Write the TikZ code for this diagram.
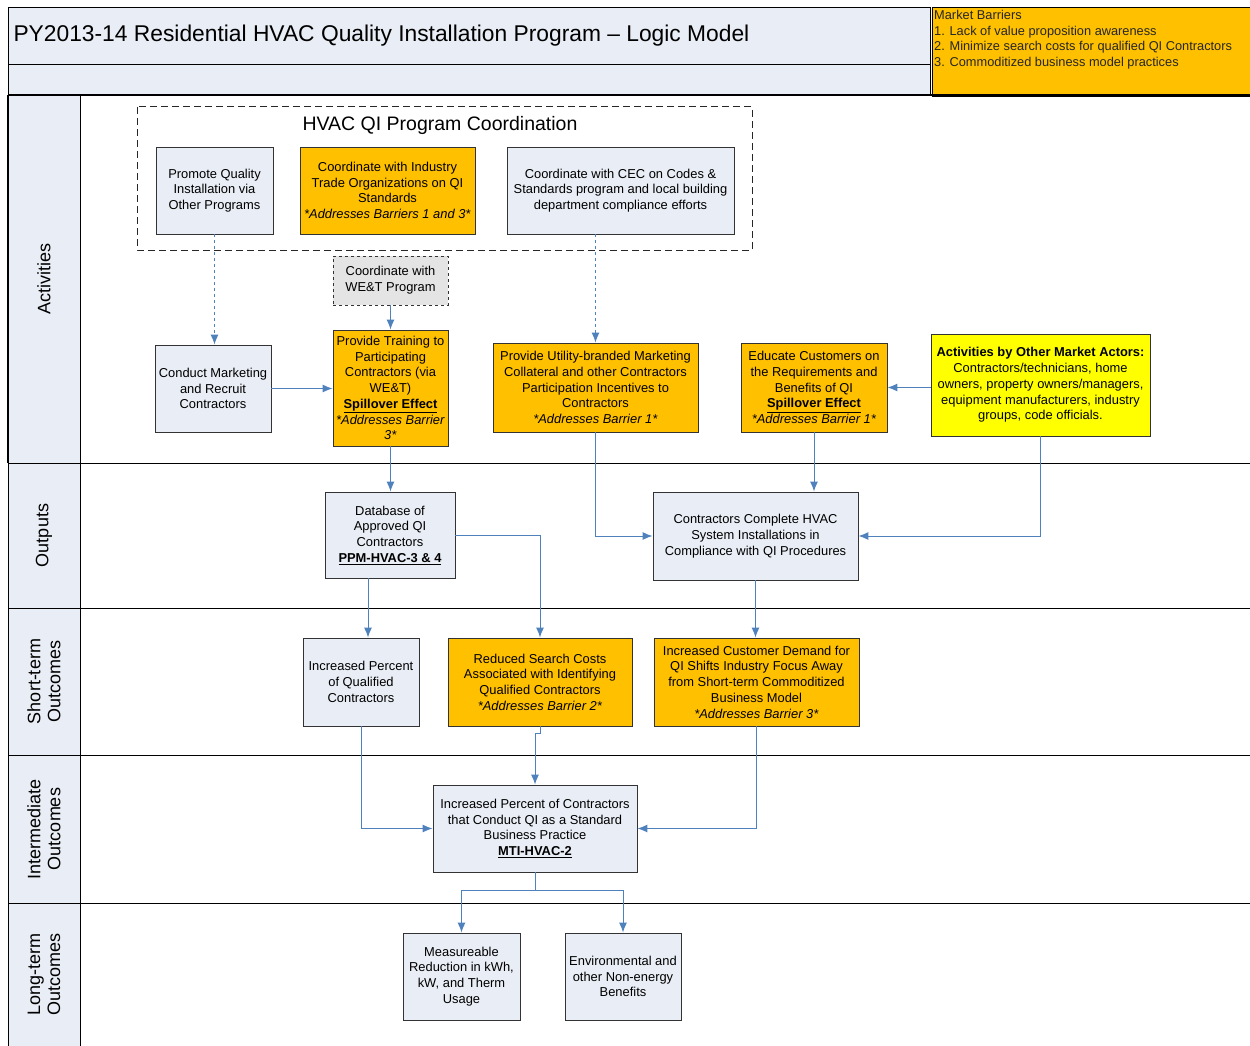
\documentclass[tikz,border=0pt]{standalone}
\usepackage{fontspec}
\setmainfont{Liberation Sans}
\usetikzlibrary{arrows.meta}

\definecolor{qiblue}{HTML}{E9EDF5}
\definecolor{qiorange}{HTML}{FFC000}
\definecolor{qiyellow}{HTML}{FFFF00}
\definecolor{qigray}{HTML}{E4E4E4}
\definecolor{qiarrow}{HTML}{4F81BD}

\newcommand{\qifont}{\fontsize{12.9}{15.7}\selectfont}
\newcommand{\qinote}[1]{\textit{*#1*}}
\newcommand{\qikey}[1]{\underline{\textbf{#1}}}

\tikzset{
  qibox/.style={draw=black!80, fill=qiblue, line width=0.9pt, align=center,
                inner sep=1.5pt, font=\qifont},
  orangebox/.style={qibox, fill=qiorange},
  flow/.style={draw=qiarrow, line width=1pt, -{Latex[length=10pt,width=8pt]}},
  lane/.style={draw=black, line width=1pt},
  lanelabel/.style={rotate=90, align=center, font=\fontsize{18}{20}\selectfont}
}

\begin{document}
\begin{tikzpicture}[x=1pt, y=-1pt]
  \useasboundingbox (0,0) rectangle (1250,1046);

  % Title bands
  \draw[lane, fill=qiblue] (8,8) rectangle (930,65);
  \draw[lane, fill=qiblue] (8,65) rectangle (930,95);
  \node[anchor=west, font=\fontsize{22.8}{26}\selectfont] (title) at (10,36)
    {PY2013-14 Residential HVAC Quality Installation Program -- Logic Model};

  % Market barriers
  \draw[lane, fill=qiorange] (932,8) rectangle (1250,97);
  \node[anchor=north west, align=left, inner sep=0pt, text=black!85,
        font=\fontsize{12.8}{15.6}\selectfont] (barriers) at (934,10)
    {Market Barriers\\
     1. Lack of value proposition awareness\\
     2. Minimize search costs for qualified QI Contractors\\
     3. Commoditized business model practices};

  % Swimlanes
  \draw[lane, fill=qiblue] (8,95) rectangle (80,463);
  \draw[lane, fill=qiblue] (8,463) rectangle (80,608);
  \draw[lane, fill=qiblue] (8,608) rectangle (80,755);
  \draw[lane, fill=qiblue] (8,755) rectangle (80,903);
  \draw[lane, fill=qiblue] (8,903) rectangle (80,1046);
  \draw[lane, line width=1.4pt] (8,95) -- (1250,95);
  \foreach \y in {463,608,755,903}
    \draw[lane] (80,\y) -- (1250,\y);
  \draw[lane, line width=1.4pt] (8,95) -- (8,463);
  \node[lanelabel] (lact) at (44,279) {Activities};
  \node[lanelabel] (lout) at (44,535.5) {Outputs};
  \node[lanelabel] (lshort) at (44,681.5) {Short-term\\Outcomes};
  \node[lanelabel] (linter) at (44,829) {Intermediate\\Outcomes};
  \node[lanelabel] (llong) at (44,974.5) {Long-term\\Outcomes};

  % Program coordination group
  \draw[black!85, line width=1pt, dash pattern=on 7pt off 4pt] (137,107) rectangle (752,250);
  \node[font=\fontsize{19.5}{22}\selectfont] (coord) at (440,125) {HVAC QI Program Coordination};
  \node[qibox, minimum width=117pt, minimum height=87pt] (promote) at (214.5,190.5)
    {Promote Quality\\Installation via\\Other Programs};
  \node[orangebox, minimum width=175pt, minimum height=87pt] (industry) at (387.5,190.5)
    {Coordinate with Industry\\Trade Organizations on QI\\Standards\\\qinote{Addresses Barriers 1 and 3}};
  \node[qibox, minimum width=227pt, minimum height=87pt] (cec) at (620.5,190.5)
    {Coordinate with CEC on Codes \&\\Standards program and local building\\department compliance efforts};
  \node[qibox, fill=qigray, dashed, minimum width=115pt, minimum height=49pt] (wet) at (390.5,280.5)
    {Coordinate with\\WE\&T Program};

  % Activities
  \node[qibox, minimum width=116pt, minimum height=87pt] (marketing) at (213,388.5)
    {Conduct Marketing\\and Recruit\\Contractors};
  \node[orangebox, minimum width=115pt, minimum height=116pt] (training) at (390.5,388)
    {Provide Training to\\Participating\\Contractors (via\\WE\&T)\\\qikey{Spillover Effect}\\
     \textit{*Addresses Barrier}\\\textit{3*}};
  \node[orangebox, minimum width=205pt, minimum height=89pt] (utility) at (595.5,387.5)
    {Provide Utility-branded Marketing\\Collateral and other Contractors\\Participation Incentives to\\
     Contractors\\\qinote{Addresses Barrier 1}};
  \node[orangebox, minimum width=146pt, minimum height=89pt] (educate) at (814,387.5)
    {Educate Customers on\\the Requirements and\\Benefits of QI\\\qikey{Spillover Effect}\\
     \qinote{Addresses Barrier 1}};
  \node[qibox, fill=qiyellow, minimum width=219pt, minimum height=102pt] (actors) at (1040.5,385)
    {\textbf{Activities by Other Market Actors:}\\Contractors/technicians, home\\
     owners, property owners/managers,\\equipment manufacturers, industry\\groups, code officials.};

  % Outputs
  \node[qibox, minimum width=130pt, minimum height=86pt] (database) at (390,535)
    {Database of\\Approved QI\\Contractors\\\qikey{PPM-HVAC-3 \& 4}};
  \node[qibox, minimum width=205pt, minimum height=88pt] (complete) at (755.5,536)
    {Contractors Complete HVAC\\System Installations in\\Compliance with QI Procedures};

  % Short-term outcomes
  \node[qibox, minimum width=116pt, minimum height=88pt] (qualified) at (361,682)
    {Increased Percent\\of Qualified\\Contractors};
  \node[orangebox, minimum width=184pt, minimum height=88pt] (search) at (540,682)
    {Reduced Search Costs\\Associated with Identifying\\Qualified Contractors\\
     \qinote{Addresses Barrier 2}};
  \node[orangebox, minimum width=205pt, minimum height=88pt] (demand) at (756.5,682)
    {Increased Customer Demand for\\QI Shifts Industry Focus Away\\from Short-term Commoditized\\
     Business Model\\\qinote{Addresses Barrier 3}};

  % Intermediate outcomes
  \node[qibox, minimum width=204pt, minimum height=87pt] (practice) at (535,828.5)
    {Increased Percent of Contractors\\that Conduct QI as a Standard\\Business Practice\\
     \qikey{MTI-HVAC-2}};

  % Long-term outcomes
  \node[qibox, minimum width=117pt, minimum height=87pt] (reduction) at (461.5,976.5)
    {Measureable\\Reduction in kWh,\\kW, and Therm\\Usage};
  \node[qibox, minimum width=116pt, minimum height=87pt] (benefits) at (623,976.5)
    {Environmental and\\other Non-energy\\Benefits};

  % Connectors
  \draw[flow, dashed] (promote.south) -- (promote.south |- marketing.north);
  \draw[flow, dashed] (utility.north |- cec.south) -- (utility.north);
  \draw[flow] (wet.south) -- (training.north);
  \draw[flow] (marketing.east) -- (marketing.east -| training.west);
  \draw[flow] (actors.west |- educate.east) -- (educate.east);
  \draw[flow] (training.south) -- (training.south |- database.north);
  \draw[flow] (utility.south) |- (complete.west);
  \draw[flow] (educate.south) -- (educate.south |- complete.north);
  \draw[flow] (actors.south) |- (complete.east);
  \draw[flow] ([xshift=-22pt]database.south) -- ([xshift=-22pt]database.south |- qualified.north);
  \draw[flow] (database.east) -| (search.north);
  \draw[flow] (complete.south) -- (complete.south |- demand.north);
  \draw[flow] (qualified.south) |- (practice.west);
  \draw[flow] (search.south) -- ++(0,7) -| (practice.north);
  \draw[flow] (demand.south) |- (practice.east);
  \draw[flow] (practice.south) -- ++(0,18) -| (reduction.north);
  \draw[flow] (practice.south) -- ++(0,18) -| (benefits.north);
\end{tikzpicture}
\end{document}
